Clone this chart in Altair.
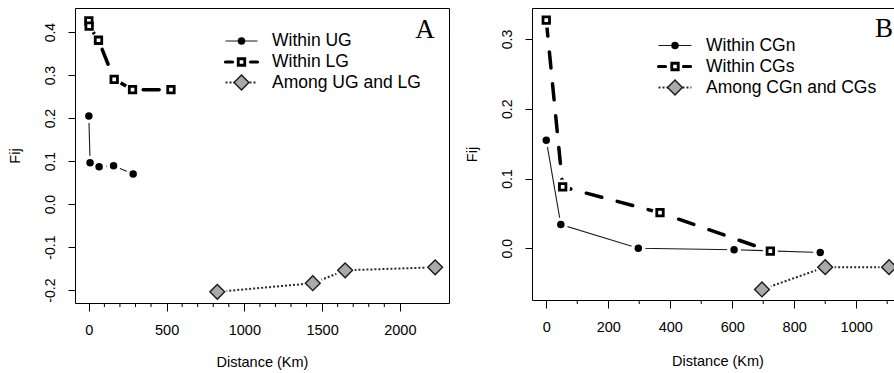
import altair as alt
import pandas as pd

FONT = "Liberation Sans"

# ---- Panel A: pairwise kinship (Fij) against geographic distance, UG / LG ----
ug_km = [0, 8, 66, 159, 285]
ug_fij = [0.205, 0.096, 0.087, 0.089, 0.070]
lg_km = [0, 2, 62, 163, 281, 528]
lg_fij = [0.426, 0.414, 0.381, 0.290, 0.266, 0.266]
ulg_km = [826, 1440, 1648, 2227]
ulg_fij = [-0.204, -0.184, -0.154, -0.147]

# ---- Panel B: CGn / CGs ----
cgn_km = [0, 47, 297, 606, 884]
cgn_fij = [0.155, 0.034, 0.000, -0.002, -0.006]
cgs_km = [0, 53, 367, 723]
cgs_fij = [0.327, 0.088, 0.051, -0.004]
cgns_km = [696, 900, 1106]
cgns_fij = [-0.059, -0.027, -0.027]

labels_a = ["Within UG", "Within LG", "Among UG and LG"]
labels_b = ["Within CGn", "Within CGs", "Among CGn and CGs"]

x_major_a = [0, 500, 1000, 1500, 2000]
x_minor_a = [100, 200, 300, 400, 600, 700, 800, 900, 1100, 1200, 1300, 1400,
             1600, 1700, 1800, 1900]
x_major_b = [0, 200, 400, 600, 800, 1000]
x_minor_b = [100, 300, 500, 700, 900, 1100]
y_ticks_a = [-0.2, -0.1, 0.0, 0.1, 0.2, 0.3, 0.4]
y_ticks_b = [0.0, 0.1, 0.2, 0.3]

KINDS = ["solid", "dashed", "dotted"]

STYLES = {
    "solid": dict(line=dict(color="#1a1a1a", strokeWidth=1.1),
                  shape="circle", size=56, fill="#000000", stroke="#000000", sw=0.01,
                  halo=196, leg_line=dict(color="#1a1a1a", strokeWidth=1.1)),
    "dashed": dict(line=dict(color="#000000", strokeWidth=3.5, strokeDash=[16, 16], strokeCap="round"),
                   shape="square", size=42, fill="#ffffff", stroke="#000000", sw=2.8,
                   halo=225, leg_line=dict(color="#000000", strokeWidth=3.2, strokeDash=[7, 18], strokeCap="round")),
    "dotted": dict(line=dict(color="#2a2a2a", strokeWidth=2, strokeDash=[2, 2]),
                   shape="diamond", size=220, fill="#a9a9a9", stroke="#1a1a1a", sw=1.4,
                   halo=361, leg_line=dict(color="#2a2a2a", strokeWidth=2, strokeDash=[2, 2])),
}


def series_df(km, fij):
    return pd.DataFrame({"km": km, "fij": fij, "ord": list(range(len(km)))})


def panel(series, xdom, ydom, w, h, xmajor, xminor, yticks, labels,
          leg_x0, leg_x1, leg_xt, leg_rows, tag, tag_x, tag_y, xtitle_pad):
    xs = alt.Scale(domain=xdom, nice=False, zero=False)
    ys = alt.Scale(domain=ydom, nice=False, zero=False)
    xaxis = alt.Axis(values=xmajor, format="d", title="Distance (Km)", tickSize=8,
                     labelPadding=12, titlePadding=xtitle_pad, grid=False, domain=False)
    yaxis = alt.Axis(values=yticks, title="Fij", tickSize=7, labelAngle=270,
                     labelAlign="center", labelBaseline="alphabetic", labelPadding=14,
                     labelFontSize=14,
                     labelExpr="(datum.value < 0 ? '-' : '') + format(abs(datum.value), '.1f')",
                     titleAngle=270, titleX=-60, titleY=h / 2, titleAlign="center",
                     titleBaseline="middle", grid=False, domain=False)

    def X():
        return alt.X("km:Q", scale=xs, axis=xaxis)

    def Y():
        return alt.Y("fij:Q", scale=ys, axis=yaxis)

    lines, halos, points = [], [], []
    for (km, fij), kind in zip(series, KINDS):
        st = STYLES[kind]
        df = series_df(km, fij)
        lines.append(alt.Chart(df).mark_line(**st["line"]).encode(x=X(), y=Y(), order="ord:Q"))
        # white discs under each marker leave a small gap between line and point
        halos.append(alt.Chart(df).mark_point(shape="circle", filled=True, color="#ffffff",
                                              size=st["halo"], opacity=1, strokeWidth=0)
                     .encode(x=X(), y=Y()))
        points.append(alt.Chart(df).mark_point(shape=st["shape"], filled=True, fill=st["fill"],
                                               stroke=st["stroke"], strokeWidth=st["sw"],
                                               size=st["size"], opacity=1)
                      .encode(x=X(), y=Y()))

    # short minor ticks between the labelled ones
    minor = alt.Chart(pd.DataFrame({"km": xminor})).mark_rule(color="#000000", strokeWidth=1).encode(
        x=X(), y=alt.value(h), y2=alt.value(h + 4))

    legend = []
    for lab, kind, yy in zip(labels, KINDS, leg_rows):
        st = STYLES[kind]
        base = alt.Chart(pd.DataFrame({"label": [lab]}))
        legend.append(base.mark_rule(**st["leg_line"]).encode(
            x=alt.value(leg_x0), x2=alt.value(leg_x1), y=alt.value(yy)))
        legend.append(base.mark_point(shape=st["shape"], filled=True, fill=st["fill"],
                                      stroke=st["stroke"], strokeWidth=st["sw"],
                                      size=st["size"], opacity=1).encode(
            x=alt.value((leg_x0 + leg_x1) / 2), y=alt.value(yy)))
        legend.append(base.mark_text(align="left", baseline="middle", font=FONT,
                                     fontSize=17.5, color="#000000").encode(
            x=alt.value(leg_xt), y=alt.value(yy), text="label:N"))

    tag_mark = alt.Chart(pd.DataFrame({"tag": [tag]})).mark_text(
        font="Liberation Serif", fontSize=27, align="center", baseline="alphabetic",
        color="#000000").encode(x=alt.value(tag_x), y=alt.value(tag_y), text="tag:N")

    return alt.layer(*lines, *halos, *points, minor, *legend, tag_mark).properties(width=w, height=h)


panel_a = panel(
    [(ug_km, ug_fij), (lg_km, lg_fij), (ulg_km, ulg_fij)],
    [-89, 2316], [-0.230, 0.456], 374, 295,
    x_major_a, x_minor_a, y_ticks_a, labels_a,
    150.5, 182.5, 197, [33, 54, 74.5], "A", 350, 30, 19)

panel_b = panel(
    [(cgn_km, cgn_fij), (cgs_km, cgs_fij), (cgns_km, cgns_fij)],
    [-46, 1151], [-0.0741, 0.3444], 371, 292,
    x_major_b, x_minor_b, y_ticks_b, labels_b,
    126.5, 159.5, 174, [37.5, 58.5, 79.5], "B", 352, 29, 21)

chart = alt.hconcat(panel_a, panel_b, spacing=83, bounds="flush").properties(
    padding={"left": 6, "top": 7, "right": -10, "bottom": 0}
).configure_view(
    stroke="#000000", strokeWidth=1
).configure_axis(
    labelFont=FONT, labelFontSize=14.5, labelColor="#000000",
    titleFont=FONT, titleFontSize=14.5, titleFontWeight="normal", titleColor="#000000",
    tickColor="#000000", tickWidth=1
)

chart.save("out.html", embed_options={"renderer": "svg", "actions": False})
